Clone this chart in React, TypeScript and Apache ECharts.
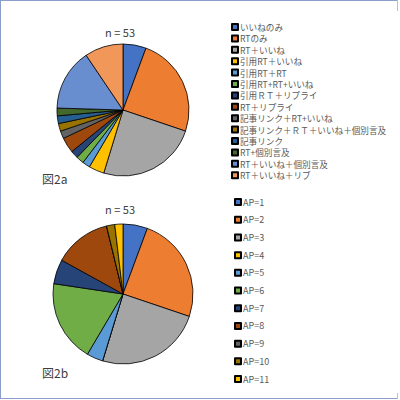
import React, { useEffect, useRef } from "react";
import * as echarts from "echarts";

const namesA = [
  "いいねのみ",
  "RTのみ",
  "RT＋いいね",
  "引用RT＋いいね",
  "引用RT＋RT",
  "引用RT+RT+いいね",
  "引用ＲＴ＋リプライ",
  "RT＋リプライ",
  "記事リンク＋RT+いいね",
  "記事リンク＋ＲＴ＋いいね＋個別言及",
  "記事リンク",
  "RT+個別言及",
  "RT＋いいね＋個別言及",
  "RT＋いいね＋リブ",
];
const valuesA = [3, 13, 13, 2, 1, 1, 1, 2, 1, 1, 1, 1, 8, 5];
const colorsA = [
  "#4472C4", "#ED7D31", "#A5A5A5", "#FFC000", "#5B9BD5", "#70AD47", "#264478",
  "#9E480E", "#636363", "#997300", "#255E91", "#43682B", "#698ED0", "#F1975A",
];

const namesB = ["AP=1", "AP=2", "AP=3", "AP=4", "AP=5", "AP=6", "AP=7", "AP=8", "AP=9", "AP=10", "AP=11"];
const valuesB = [3, 13, 13, 0, 2, 10, 3, 7, 0, 1, 1];
const colorsB = [
  "#4472C4", "#ED7D31", "#A5A5A5", "#FFC000", "#5B9BD5", "#70AD47", "#264478",
  "#9E480E", "#636363", "#997300", "#FFC000",
];

const titleA = "n = 53";
const titleB = "n = 53";
const captionA = "図2a";
const captionB = "図2b";

const FONT = "'Noto Sans CJK JP', 'Noto Sans', sans-serif";
const BORDER = "#8A9DCB";

export default function App() {
  const ref = useRef<HTMLDivElement>(null);
  useEffect(() => {
    if (!ref.current) return;
    const chart = echarts.init(ref.current, null, { renderer: "svg" });
    const mk = (names: string[], vals: number[], cols: string[]) =>
      names.map((n, i) => ({ name: n, value: vals[i], itemStyle: { color: cols[i] } }));
    chart.setOption({
      animation: false,
      backgroundColor: "#ffffff",
      title: [
        { text: titleA, left: 120, top: 26, padding: 0, textAlign: "center", textStyle: { fontSize: 11, fontWeight: "normal", color: "#404040", fontFamily: FONT } },
        { text: titleB, left: 120, top: 203, padding: 0, textAlign: "center", textStyle: { fontSize: 11, fontWeight: "normal", color: "#404040", fontFamily: FONT } },
      ],
      legend: [
        {
          data: namesA,
          orient: "vertical",
          left: 231,
          top: 21.3,
          itemWidth: 6,
          itemHeight: 6,
          itemGap: 0,
          icon: "rect",
          padding: 0,
          selectedMode: false,
          textStyle: { fontSize: 8.6, color: "#595959", fontFamily: FONT, lineHeight: 11.4, padding: [0, 0, 0, -3] },
        },
        {
          data: namesB,
          orient: "vertical",
          left: 234,
          top: 193.2,
          itemWidth: 6,
          itemHeight: 6,
          itemGap: 0,
          icon: "rect",
          padding: 0,
          selectedMode: false,
          textStyle: { fontSize: 9, color: "#595959", fontFamily: FONT, lineHeight: 17.7, padding: [0, 0, 0, -3] },
        },
      ],
      series: [
        {
          type: "pie",
          center: [123, 110],
          radius: 66,
          startAngle: 90,
          clockwise: true,
          label: { show: false },
          labelLine: { show: false },
          itemStyle: { borderColor: "#000", borderWidth: 0.8 },
          emphasis: { disabled: true },
          data: mk(namesA, valuesA, colorsA),
        },
        {
          type: "pie",
          center: [123, 294],
          radius: 70,
          startAngle: 90,
          clockwise: true,
          label: { show: false },
          labelLine: { show: false },
          itemStyle: { borderColor: "#000", borderWidth: 0.8 },
          emphasis: { disabled: true },
          data: mk(namesB, valuesB, colorsB),
        },
      ],
      graphic: [
        { type: "text", left: 42, top: 172, style: { text: captionA, fill: "#404040", font: `12px ${FONT}` } },
        { type: "text", left: 42, top: 366, style: { text: captionB, fill: "#404040", font: `12px ${FONT}` } },
        { type: "line", shape: { x1: 0, y1: 0.5, x2: 397, y2: 0.5 }, style: { stroke: BORDER, lineWidth: 1 } },
        { type: "line", shape: { x1: 0.5, y1: 0, x2: 0.5, y2: 398 }, style: { stroke: BORDER, lineWidth: 1 } },
        { type: "line", shape: { x1: 0, y1: 398.5, x2: 398, y2: 398.5 }, style: { stroke: BORDER, lineWidth: 1 } },
        { type: "line", shape: { x1: 397.5, y1: 0, x2: 397.5, y2: 11 }, style: { stroke: "#B4C0DC", lineWidth: 1 } },
        { type: "line", shape: { x1: 397.5, y1: 393, x2: 397.5, y2: 399 }, style: { stroke: "#B4C0DC", lineWidth: 1 } },
      ],
    });
    return () => chart.dispose();
  }, []);
  return <div ref={ref} style={{ position: "fixed", left: 0, top: 0, width: 400, height: 400 }} />;
}
